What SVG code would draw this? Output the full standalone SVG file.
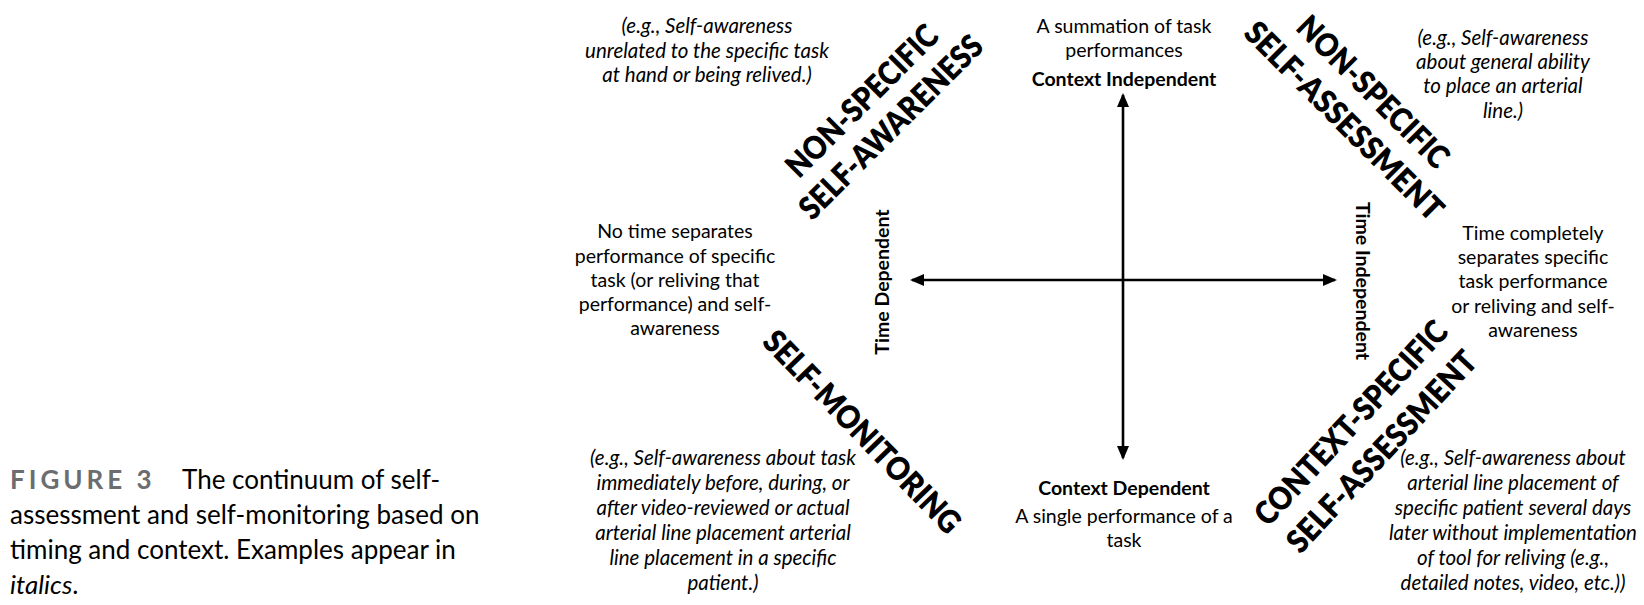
<svg xmlns="http://www.w3.org/2000/svg" width="1644" height="605" viewBox="0 0 1644 605">
<style>
.t{font-family:Lato,"Noto Sans",sans-serif;font-size:19.5px;fill:#000;text-anchor:middle}
.b{font-weight:700}
.i{font-style:italic;font-size:20.5px}
.big{font-family:Lato,"Noto Sans",sans-serif;font-weight:800;font-size:32px;fill:#000;text-anchor:middle}
.cap{font-family:Lato,"Noto Sans",sans-serif;font-size:26px;fill:#000}
.fig{font-weight:700;fill:#6b6d70;letter-spacing:4px}
.ax{stroke:#000;stroke-width:2.6;fill:none}
</style>
<defs>
<marker id="ah" viewBox="0 0 14 12" refX="12" refY="6" markerWidth="14" markerHeight="12" markerUnits="userSpaceOnUse" orient="auto-start-reverse">
<path d="M0,0 L14,6 L0,12 z" fill="#000"/>
</marker>
</defs>
<rect width="1644" height="605" fill="#fff"/>

<g id="caption">
<text class="cap" x="10" y="489"><tspan class="fig">FIGURE 3</tspan><tspan x="182">The continuum of self-</tspan></text>
<text class="cap" x="10" y="524">assessment and self-monitoring based on</text>
<text class="cap" x="10" y="559">timing and context. Examples appear in</text>
<text class="cap" x="10" y="594"><tspan font-style="italic">italics</tspan>.</text>
</g>

<g id="connectors">
<line class="ax" x1="1123" y1="458" x2="1123" y2="95" marker-start="url(#ah)" marker-end="url(#ah)"/>
<line class="ax" x1="912" y1="280" x2="1335" y2="280" marker-start="url(#ah)" marker-end="url(#ah)"/>
</g>

<g id="context-independent">
<text class="t" x="1124" y="33">A summation of task</text>
<text class="t" x="1124" y="57">performances</text>
<text class="t b" x="1124" y="86">Context Independent</text>
</g>

<g id="context-dependent">
<text class="t b" x="1124" y="495">Context Dependent</text>
<text class="t" x="1124" y="523">A single performance of a</text>
<text class="t" x="1124" y="547">task</text>
</g>

<g id="time-dependent">
<text class="t b" transform="translate(889,282) rotate(-90)" x="0" y="0">Time Dependent</text>
<text class="t" x="675" y="238">No time separates</text>
<text class="t" x="675" y="263">performance of specific</text>
<text class="t" x="675" y="287">task (or reliving that</text>
<text class="t" x="675" y="311">performance) and self-</text>
<text class="t" x="675" y="335">awareness</text>
</g>

<g id="time-independent">
<text class="t b" transform="translate(1356,281) rotate(90)" x="0" y="0">Time Independent</text>
<text class="t" x="1533" y="240">Time completely</text>
<text class="t" x="1533" y="264">separates specific</text>
<text class="t" x="1533" y="288">task performance</text>
<text class="t" x="1533" y="313">or reliving and self-</text>
<text class="t" x="1533" y="337">awareness</text>
</g>

<g id="non-specific-self-awareness">
<g transform="translate(862,101) rotate(-45)">
<text class="big" x="0" y="11" textLength="200" lengthAdjust="spacingAndGlyphs">NON-SPECIFIC</text>
<text class="big" x="2" y="50" textLength="245" lengthAdjust="spacingAndGlyphs">SELF-AWARENESS</text>
</g>
<text class="t i" x="707" y="33">(e.g., Self-awareness</text>
<text class="t i" x="707" y="58">unrelated to the specific task</text>
<text class="t i" x="707" y="82">at hand or being relived.)</text>
</g>

<g id="non-specific-self-assessment">
<g transform="translate(1373,92) rotate(45)">
<text class="big" x="0" y="11" textLength="200" lengthAdjust="spacingAndGlyphs">NON-SPECIFIC</text>
<text class="big" x="0" y="52" textLength="266" lengthAdjust="spacingAndGlyphs">SELF-ASSESSMENT</text>
</g>
<text class="t i" x="1503" y="45">(e.g., Self-awareness</text>
<text class="t i" x="1503" y="69">about general ability</text>
<text class="t i" x="1503" y="93">to place an arterial</text>
<text class="t i" x="1503" y="118">line.)</text>
</g>

<g id="self-monitoring">
<g transform="translate(862,432) rotate(46)">
<text class="big" x="0" y="11" textLength="268" lengthAdjust="spacingAndGlyphs">SELF-MONITORING</text>
</g>
<text class="t i" x="723" y="465">(e.g., Self-awareness about task</text>
<text class="t i" x="723" y="490">immediately before, during, or</text>
<text class="t i" x="723" y="515">after video-reviewed or actual</text>
<text class="t i" x="723" y="540">arterial line placement arterial</text>
<text class="t i" x="723" y="565">line placement in a specific</text>
<text class="t i" x="723" y="590">patient.)</text>
</g>

<g id="context-specific-self-assessment">
<g transform="translate(1351,423) rotate(-47)">
<text class="big" x="0" y="11" textLength="266" lengthAdjust="spacingAndGlyphs">CONTEXT-SPECIFIC</text>
<text class="big" x="0" y="53" textLength="262" lengthAdjust="spacingAndGlyphs">SELF-ASSESSMENT</text>
</g>
<text class="t i" x="1513" y="465">(e.g., Self-awareness about</text>
<text class="t i" x="1513" y="490">arterial line placement of</text>
<text class="t i" x="1513" y="515">specific patient several days</text>
<text class="t i" x="1513" y="540">later without implementation</text>
<text class="t i" x="1513" y="565">of tool for reliving (e.g.,</text>
<text class="t i" x="1513" y="590">detailed notes, video, etc.))</text>
</g>
</svg>
